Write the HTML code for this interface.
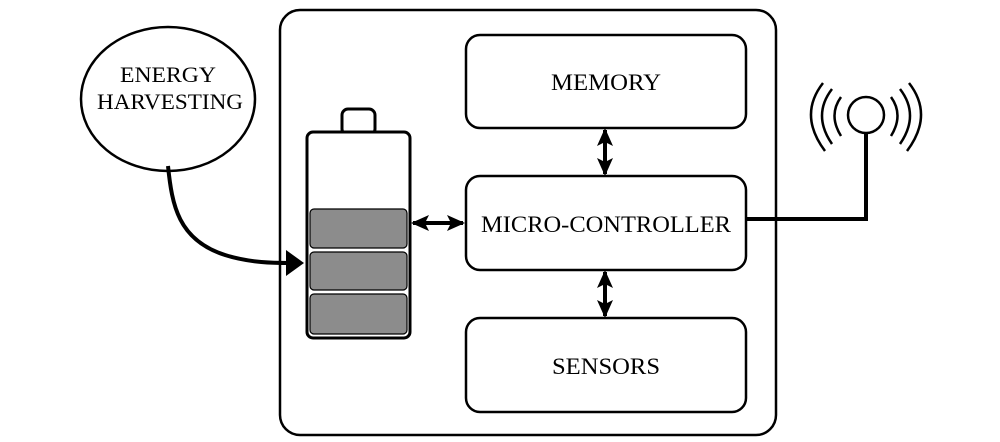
<!DOCTYPE html>
<html><head><meta charset="utf-8"><style>body{margin:0;background:#fff}svg{display:block}text{font-family:"Liberation Serif",serif;fill:#000}</style></head>
<body>
<svg width="1000" height="442" viewBox="0 0 1000 442">
<defs>
<marker id="ah2" markerWidth="18" markerHeight="18" refX="16" refY="9" orient="auto-start-reverse" markerUnits="userSpaceOnUse" viewBox="0 0 18 18"><path d="M0,1 L18,9 L0,17 L4,9 Z" fill="#000"/></marker>
</defs>
<rect x="280" y="10" width="496" height="425" rx="20" fill="none" stroke="#000" stroke-width="2.5"/>
<g>
<ellipse cx="168" cy="99" rx="87" ry="72" fill="none" stroke="#000" stroke-width="2.5"/>
<text x="168" y="82" font-size="22" text-anchor="middle" textLength="96" lengthAdjust="spacingAndGlyphs">ENERGY</text>
<text x="170" y="109" font-size="22" text-anchor="middle" textLength="146" lengthAdjust="spacingAndGlyphs">HARVESTING</text>
</g>
<path d="M168,166 C172,205 178,240 225,255 C250,263 275,263 290,263" fill="none" stroke="#000" stroke-width="4"/>
<path d="M286,250 L304,263 L286,276 Z" fill="#000"/>
<g>
<rect x="342" y="109" width="33" height="26" rx="6" fill="#fff" stroke="#000" stroke-width="3"/>
<rect x="307" y="132" width="103" height="206" rx="6" fill="#fff" stroke="#000" stroke-width="3"/>
<rect x="310" y="209" width="97" height="39" rx="4" fill="#8c8c8c" stroke="#000" stroke-width="1.2"/>
<rect x="310" y="252" width="97" height="38" rx="4" fill="#8c8c8c" stroke="#000" stroke-width="1.2"/>
<rect x="310" y="294" width="97" height="40" rx="4" fill="#8c8c8c" stroke="#000" stroke-width="1.2"/>
</g>
<line x1="413" y1="223" x2="463" y2="223" stroke="#000" stroke-width="4" marker-start="url(#ah2)" marker-end="url(#ah2)"/>
<line x1="605" y1="130" x2="605" y2="174" stroke="#000" stroke-width="4" marker-start="url(#ah2)" marker-end="url(#ah2)"/>
<line x1="605" y1="272" x2="605" y2="316" stroke="#000" stroke-width="4" marker-start="url(#ah2)" marker-end="url(#ah2)"/>
<g>
<rect x="466" y="35" width="280" height="93" rx="14" fill="none" stroke="#000" stroke-width="2.5"/>
<text x="606" y="90" font-size="23" text-anchor="middle" textLength="110" lengthAdjust="spacingAndGlyphs">MEMORY</text></g>
<g>
<rect x="466" y="176" width="280" height="94" rx="14" fill="none" stroke="#000" stroke-width="2.5"/>
<text x="606" y="232" font-size="23" text-anchor="middle" textLength="250" lengthAdjust="spacingAndGlyphs">MICRO-CONTROLLER</text></g>
<g>
<rect x="466" y="318" width="280" height="94" rx="14" fill="none" stroke="#000" stroke-width="2.5"/>
<text x="606" y="374" font-size="23" text-anchor="middle" textLength="108" lengthAdjust="spacingAndGlyphs">SENSORS</text></g>
<path d="M746,219 L866,219 L866,133" fill="none" stroke="#000" stroke-width="4"/>
<g fill="none" stroke="#000" stroke-width="2.5">
<circle cx="866" cy="115" r="18"/>
<path d="M841,97 Q828,115 841,136"/>
<path d="M832,89 Q812,115 832,144"/>
<path d="M823,83 Q798,115 825,151"/>
<path d="M891,97 Q904,115 891,136"/>
<path d="M900,89 Q920,115 900,144"/>
<path d="M909,83 Q934,115 907,151"/>
</g>
</svg>
</body></html>
